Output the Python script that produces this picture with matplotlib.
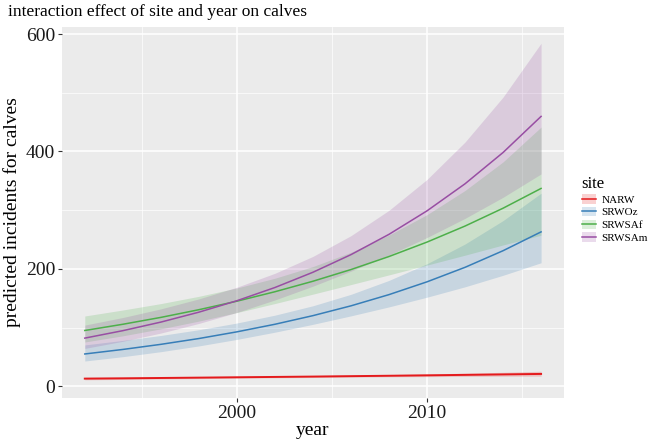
import matplotlib.pyplot as plt
from matplotlib.lines import Line2D
from matplotlib.patches import Patch
from matplotlib.ticker import MultipleLocator

plt.rcParams['font.family'] = ['Liberation Serif', 'DejaVu Serif']

years = [1992, 1994, 1996, 1998, 2000, 2002, 2004, 2006, 2008, 2010, 2012, 2014, 2016]

sites = ['NARW', 'SRWOz', 'SRWSAf', 'SRWSAm']
colors = ['#E41A1C', '#377EB8', '#4DAF4A', '#984EA3']

# predicted values and confidence bands
narw_fit = [13.0, 13.5, 14.1, 14.7, 15.3, 15.9, 16.5, 17.2, 17.9, 18.6, 19.4, 20.2, 21.0]
narw_lo = [11.0, 11.6, 12.4, 13.0, 13.7, 14.4, 14.9, 15.6, 16.1, 16.4, 16.8, 17.1, 17.2]
narw_hi = [15.3, 15.6, 16.0, 16.5, 17.0, 17.5, 18.2, 18.9, 19.9, 21.0, 22.3, 23.8, 25.6]

srwoz_fit = [55.0, 62.7, 71.4, 81.3, 92.7, 105.6, 120.3, 137.0, 156.1, 177.9, 202.6, 230.9, 263.0]
srwoz_lo = [43.0, 50.4, 58.9, 68.7, 79.8, 92.1, 105.5, 119.9, 135.2, 151.7, 169.4, 189.0, 210.4]
srwoz_hi = [70.4, 78.1, 86.5, 96.3, 107.7, 121.1, 137.1, 156.6, 180.3, 208.7, 242.3, 282.2, 328.8]

srwsaf_fit = [95.0, 105.6, 117.3, 130.4, 144.9, 161.0, 178.9, 198.8, 221.0, 245.6, 272.9, 303.3, 337.0]
srwsaf_lo = [75.4, 85.9, 97.8, 111.0, 125.5, 140.9, 156.9, 173.2, 189.7, 206.4, 223.3, 240.7, 257.3]
srwsaf_hi = [119.7, 129.9, 140.8, 153.2, 167.4, 184.0, 203.9, 228.2, 257.5, 292.3, 333.5, 382.2, 441.5]

srwsam_fit = [82.0, 94.7, 109.3, 126.2, 145.7, 168.2, 194.2, 224.2, 258.8, 298.8, 344.9, 398.2, 459.7]
srwsam_lo = [64.5, 76.6, 90.6, 107.0, 125.8, 147.0, 170.5, 196.0, 223.5, 253.4, 286.0, 321.9, 361.7]
srwsam_hi = [104.2, 117.1, 131.8, 148.8, 168.7, 192.4, 221.2, 256.5, 299.7, 352.3, 416.0, 492.6, 584.3]

fits = [narw_fit, srwoz_fit, srwsaf_fit, srwsam_fit]
los = [narw_lo, srwoz_lo, srwsaf_lo, srwsam_lo]
his = [narw_hi, srwoz_hi, srwsaf_hi, srwsam_hi]

fig = plt.figure(figsize=(6.51, 4.41), dpi=100)
ax = fig.add_axes([0.0952, 0.0975, 0.771, 0.8413])
ax.set_facecolor('#EBEBEB')

for fit, lo, hi, c in zip(fits, los, his, colors):
    ax.fill_between(years, lo, hi, color=c, alpha=0.2, linewidth=0, zorder=2)
for i, (fit, c) in enumerate(zip(fits, colors)):
    ax.plot(years, fit, color=c, lw=1.4 if i == 0 else 1.1, zorder=3)

ax.set_xlim(1990.8, 2017.2)
ax.set_ylim(-20, 612)
ax.xaxis.set_major_locator(MultipleLocator(10))
ax.xaxis.set_minor_locator(MultipleLocator(5))
ax.yaxis.set_major_locator(MultipleLocator(200))
ax.yaxis.set_minor_locator(MultipleLocator(100))
ax.grid(which='major', color='white', lw=1.1, zorder=1)
ax.grid(which='minor', color='white', lw=0.5, zorder=1)
ax.set_axisbelow(True)
for s in ax.spines.values():
    s.set_visible(False)
ax.tick_params(which='major', length=3, color='#333333', labelsize=14,
               labelcolor='#1a1a1a', pad=2)
ax.tick_params(which='minor', length=0)

ax.set_xlabel('year', fontsize=14, labelpad=0)
ax.set_ylabel('predicted incidents for calves', fontsize=14, labelpad=3)
fig.text(0.0123, 0.99, 'interaction effect of site and year on calves',
         fontsize=12.5, ha='left', va='top')

handles = [(Patch(facecolor=c, alpha=0.2, edgecolor='none'), Line2D([], [], color=c, lw=1.1))
           for c in colors]
leg = fig.legend(handles, sites, loc='center left', bbox_to_anchor=(0.878, 0.525),
                 title='site', fontsize=8, title_fontsize=12, frameon=False,
                 handlelength=1.3, handleheight=0.9, labelspacing=0.2,
                 handletextpad=0.5)
leg._legend_box.align = 'left'

fig.savefig('out.png', dpi=100)
